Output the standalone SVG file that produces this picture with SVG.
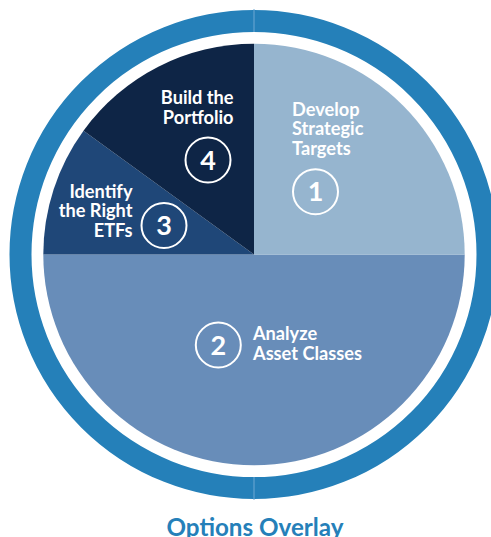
<svg xmlns="http://www.w3.org/2000/svg" width="491" height="537" viewBox="0 0 491 537">
<style>
.lbl{font-family:Lato,"Liberation Sans",sans-serif;font-weight:700;font-size:18.2px;fill:#ffffff}
.num{font-family:Lato,"Liberation Sans",sans-serif;font-weight:700;font-size:27px;fill:#ffffff;text-anchor:middle}
.badge{fill:none;stroke:#ffffff;stroke-width:2}
.end{text-anchor:end}
</style>
<rect width="491" height="537" fill="#ffffff"/>
<g id="ring">
<circle cx="254" cy="254.5" r="233.5" fill="none" stroke="#2580b9" stroke-width="22"/>
<line x1="254" y1="9" x2="254" y2="32" stroke="#6fa8d3" stroke-width="1"/>
<line x1="254" y1="477" x2="254" y2="500" stroke="#6fa8d3" stroke-width="1"/>
</g>
<g id="slice2">
<path d="M43.3 254.5 A210.7 210.7 0 0 0 464.7 254.5 Z" fill="#688db9"/>
</g>
<g id="slice1">
<path d="M254 254.5 L254 43.8 A210.7 210.7 0 0 1 464.7 254.5 Z" fill="#96b5cf"/>
</g>
<g id="slice3">
<path d="M254 254.5 L43.3 254.5 A210.7 210.7 0 0 1 83.5 130.7 Z" fill="#1f4778"/>
</g>
<g id="slice4">
<path d="M254 254.5 L83.5 130.7 A210.7 210.7 0 0 1 254 43.8 Z" fill="#0e2546"/>
</g>
<g id="node1">
<text class="lbl"><tspan x="292" y="115.5">Develop</tspan><tspan x="292" y="135.3">Strategic</tspan><tspan x="292" y="155.1">Targets</tspan></text>
<circle class="badge" cx="315.5" cy="191.7" r="22.5"/>
<text class="num" x="315.5" y="201.3">1</text>
</g>
<g id="node2">
<circle class="badge" cx="218.3" cy="345" r="22.5"/>
<text class="num" x="218.3" y="354.6">2</text>
<text class="lbl"><tspan x="253" y="340">Analyze</tspan><tspan x="253" y="360">Asset Classes</tspan></text>
</g>
<g id="node3">
<text class="lbl end"><tspan x="132.5" y="197.6">Identify</tspan><tspan x="132.5" y="217.4">the Right</tspan><tspan x="132.5" y="237.2">ETFs</tspan></text>
<circle class="badge" cx="164" cy="225.5" r="22.5"/>
<text class="num" x="164" y="235.1">3</text>
</g>
<g id="node4">
<text class="lbl end"><tspan x="233.5" y="104">Build the</tspan><tspan x="233.5" y="124">Portfolio</tspan></text>
<circle class="badge" cx="208" cy="160" r="22.5"/>
<text class="num" x="208" y="169.6">4</text>
</g>
<g id="connectors"></g>
<text x="255" y="535.5" font-family="Lato,'Liberation Sans',sans-serif" font-weight="700" font-size="24.2" fill="#2580b9" text-anchor="middle">Options Overlay</text>
</svg>
